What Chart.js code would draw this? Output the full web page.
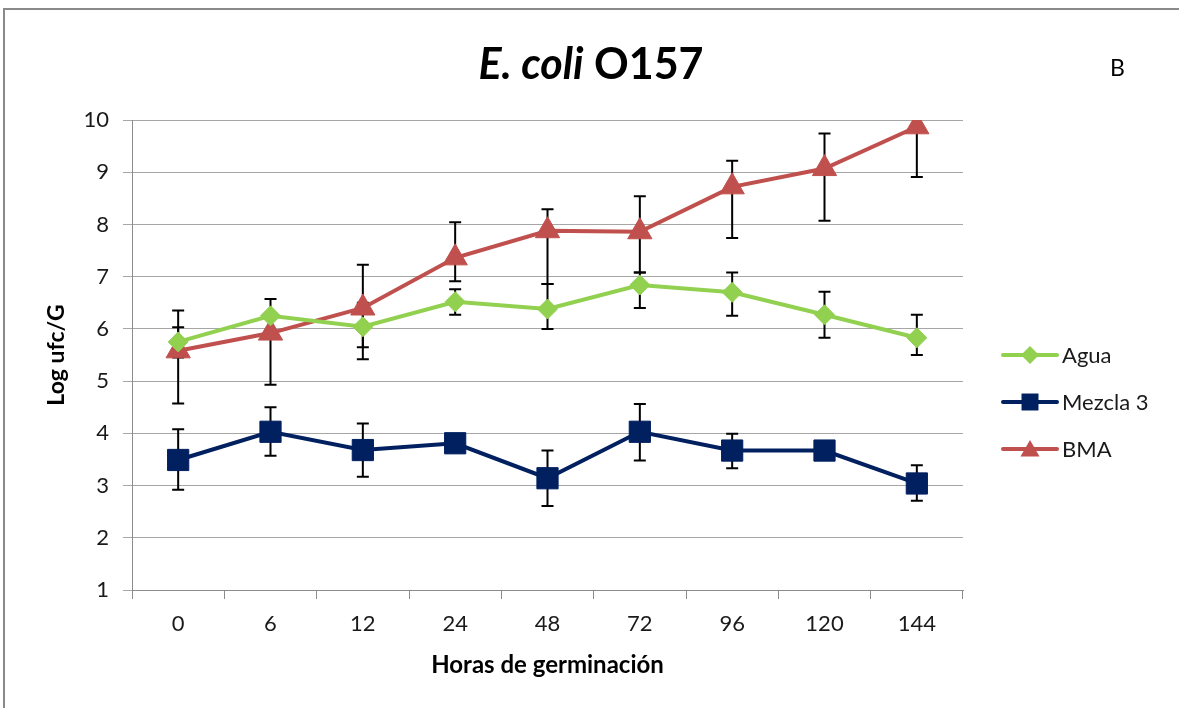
<!DOCTYPE html>
<html>
<head>
<meta charset="utf-8">
<script src="https://cdn.jsdelivr.net/npm/chart.js@4.4.0/dist/chart.umd.min.js"></script>
<style>
  html, body { margin: 0; padding: 0; background: #fff; }
  #wrap { width: 1179px; height: 708px; position: relative; }
</style>
</head>
<body>
<div id="wrap"><canvas id="chart"></canvas></div>
<script>
// categories (hours of germination)
const horas = ["0", "6", "12", "24", "48", "72", "96", "120", "144"];

// Agua
const agua = [5.75, 6.25, 6.04, 6.52, 6.38, 6.84, 6.70, 6.27, 5.83];
const aguaHi = [6.35, 6.57, 6.50, 6.76, 6.86, 7.08, 7.08, 6.71, 6.27];
const aguaLo = [5.45, 5.95, 5.65, 6.27, 6.00, 6.40, 6.25, 5.83, 5.50];

// Mezcla 3
const mezcla = [3.49, 4.03, 3.68, 3.81, 3.14, 4.03, 3.67, 3.67, 3.04];
const mezclaHi = [4.08, 4.50, 4.19, 3.81, 3.67, 4.56, 3.99, 3.67, 3.39];
const mezclaLo = [2.92, 3.57, 3.17, 3.81, 2.61, 3.48, 3.33, 3.67, 2.71];

// BMA
const bma = [5.58, 5.92, 6.40, 7.36, 7.88, 7.86, 8.72, 9.07, 9.87];
const bmaHi = [6.03, 6.20, 7.23, 8.04, 8.29, 8.54, 9.22, 9.74, 9.87];
const bmaLo = [4.57, 4.93, 5.42, 6.91, 6.86, 7.08, 7.74, 8.07, 8.91];

const yTicks = [1, 2, 3, 4, 5, 6, 7, 8, 9, 10];

const FONT = "Lato, 'Open Sans', sans-serif";
const GREEN = "#92D050";
const NAVY = "#002060";
const RED = "#C0504D";

// black error bars, drawn under the lines and markers
const errorBars = {
  id: "errorBars",
  beforeDatasetsDraw(chart) {
    const { ctx, scales } = chart;
    const y = scales.y;
    ctx.save();
    ctx.strokeStyle = "#000";
    ctx.lineWidth = 2;
    chart.data.datasets.forEach((ds, i) => {
      const meta = chart.getDatasetMeta(i);
      meta.data.forEach((pt, j) => {
        const hi = ds.errHi[j], lo = ds.errLo[j];
        if (hi == null || lo == null || hi === lo) return;
        const yh = y.getPixelForValue(hi);
        const yl = y.getPixelForValue(lo);
        const x = pt.x;
        ctx.beginPath();
        ctx.moveTo(x, yh); ctx.lineTo(x, yl);
        ctx.moveTo(x - 6, yh); ctx.lineTo(x + 6, yh);
        ctx.moveTo(x - 6, yl); ctx.lineTo(x + 6, yl);
        ctx.stroke();
      });
    });
    ctx.restore();
  },
};

function marker(ctx, style, x, y, r, color) {
  ctx.fillStyle = color;
  ctx.beginPath();
  if (style === "rectRot") {
    ctx.moveTo(x - r, y); ctx.lineTo(x, y - r); ctx.lineTo(x + r, y); ctx.lineTo(x, y + r);
  } else if (style === "rect") {
    const s = r * Math.SQRT1_2;
    ctx.rect(x - s, y - s, 2 * s, 2 * s);
  } else {
    ctx.moveTo(x, y - r);
    ctx.lineTo(x + r * 0.866, y + r * 0.5);
    ctx.lineTo(x - r * 0.866, y + r * 0.5);
  }
  ctx.closePath();
  ctx.fill();
}

// frame, title, "B" label and Excel-like legend
const decor = {
  id: "decor",
  afterDraw(chart) {
    const { ctx } = chart;
    ctx.save();
    ctx.strokeStyle = "#8a8a8a";
    ctx.lineWidth = 2;
    ctx.beginPath();
    ctx.moveTo(4, 708); ctx.lineTo(4, 9); ctx.lineTo(1179, 9);
    ctx.stroke();

    ctx.fillStyle = "#000";
    ctx.textBaseline = "alphabetic";
    const f1 = "italic bold 43px " + FONT;
    const f2 = "bold 43px " + FONT;
    ctx.font = f1;
    const w1 = ctx.measureText("E. coli").width;
    ctx.font = f2;
    const w2 = ctx.measureText(" O157").width;
    const x0 = 591 - (w1 + w2) / 2;
    ctx.font = f1;
    ctx.fillText("E. coli", x0, 79);
    ctx.font = f2;
    ctx.fillText(" O157", x0 + w1, 79);

    ctx.font = "23px " + FONT;
    ctx.fillText("B", 1110, 76);

    const rows = [355, 402, 449];
    chart.data.datasets.forEach((ds, i) => {
      const yy = rows[i];
      ctx.strokeStyle = ds.borderColor;
      ctx.lineWidth = 4;
      ctx.lineCap = "round";
      ctx.beginPath();
      ctx.moveTo(1003, yy); ctx.lineTo(1057, yy);
      ctx.stroke();
      const r = ds.pointStyle === "rect" ? 12 : ds.pointStyle === "triangle" ? 11 : 9;
      marker(ctx, ds.pointStyle, 1030, yy + (ds.pointStyle === "triangle" ? 2 : 0), r, ds.borderColor);
      ctx.fillStyle = "#1a1a1a";
      ctx.font = "22px " + FONT;
      ctx.textBaseline = "middle";
      ctx.fillText(ds.label, 1062, yy + 1);
    });
    ctx.restore();
  },
};

new Chart(document.getElementById("chart"), {
  type: "line",
  data: {
    labels: horas,
    datasets: [
      {
        label: "Agua", data: agua, errHi: aguaHi, errLo: aguaLo,
        borderColor: GREEN, backgroundColor: GREEN, borderWidth: 4,
        pointStyle: "rectRot", pointRadius: 10, pointBorderWidth: 1,
        pointBackgroundColor: GREEN, pointBorderColor: GREEN,
      },
      {
        label: "Mezcla 3", data: mezcla, errHi: mezclaHi, errLo: mezclaLo,
        borderColor: NAVY, backgroundColor: NAVY, borderWidth: 4,
        pointStyle: "rect", pointRadius: 15, pointBorderWidth: 1,
        pointBackgroundColor: NAVY, pointBorderColor: NAVY,
      },
      {
        label: "BMA", data: bma, errHi: bmaHi, errLo: bmaLo,
        borderColor: RED, backgroundColor: RED, borderWidth: 4,
        pointStyle: "triangle", pointRadius: 14, pointBorderWidth: 1,
        pointBackgroundColor: RED, pointBorderColor: RED,
      },
    ],
  },
  options: {
    responsive: true,
    maintainAspectRatio: false,
    animation: false,
    layout: { padding: { top: 120, right: 216, left: 0, bottom: 0 } },
    elements: { line: { tension: 0 } },
    plugins: {
      legend: { display: false },
      title: { display: false },
      tooltip: { enabled: false },
    },
    scales: {
      x: {
        offset: true,
        grid: { offset: true, drawOnChartArea: false, drawTicks: true, tickLength: 9, color: "#8c8c8c" },
        border: { color: "#8c8c8c", width: 1 },
        ticks: { font: { family: FONT, size: 22 }, color: "#1a1a1a", padding: 12 },
        title: {
          display: true, text: "Horas de germinación", color: "#000",
          font: { family: FONT, size: 24, weight: "bold" }, padding: { top: 0, bottom: 28 },
        },
        afterFit(s) { s.height = 118; },
      },
      y: {
        min: 1, max: 10,
        afterBuildTicks(s) { s.ticks = yTicks.map((v) => ({ value: v })); },
        grid: { color: "#a6a6a6", tickLength: 9, drawTicks: true },
        border: { color: "#8c8c8c", width: 1 },
        ticks: { font: { family: FONT, size: 22 }, color: "#1a1a1a", padding: 14 },
        title: {
          display: true, text: "Log ufc/G", color: "#000",
          font: { family: FONT, size: 23, weight: "bold" }, padding: { top: 43, bottom: 0 },
        },
        afterFit(s) { s.width = 132; },
      },
    },
  },
  plugins: [errorBars, decor],
});
</script>
</body>
</html>
